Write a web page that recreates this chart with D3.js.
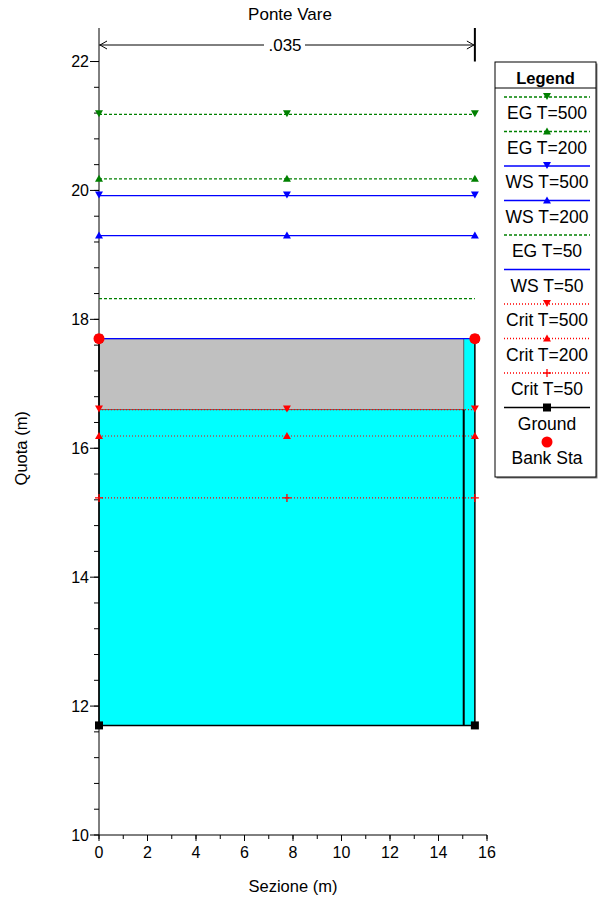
<!DOCTYPE html>
<html><head><meta charset="utf-8">
<script src="https://cdn.jsdelivr.net/npm/d3@7"></script>
<style>body{margin:0;background:#fff;} svg{display:block;font-family:"Liberation Sans",Arial,sans-serif;}</style>
</head><body>
<script>
// ---- data ----
const title = "Ponte Vare";
const annotationText = ".035";
const xTicks = [0, 2, 4, 6, 8, 10, 12, 14, 16];
const yTicks = [10, 12, 14, 16, 18, 20, 22];
const stations = [0, 7.75, 15.5];
const levelNames = ["EG T=500", "EG T=200", "WS T=500", "WS T=200", "EG T=50", "WS T=50", "Crit T=500", "Crit T=200", "Crit T=50"];
const levelValues = [21.18, 20.18, 19.92, 19.30, 18.32, 17.70, 16.60, 16.19, 15.23];
const groundX = [0, 0, 15.5, 15.5];
const groundY = [17.7, 11.7, 11.7, 17.7];
const bankX = [0, 15.5];
const bankY = [17.7, 17.7];
const deckX = [0, 15.04];
const deckTop = [17.7, 17.7];
const deckBottom = [16.6, 16.6];
const pierX = 15.04;

// ---- styles ----
const styles = {
  "EG T=500": {color: "#008000", dash: "3,2", marker: "down"},
  "EG T=200": {color: "#008000", dash: "3,2", marker: "up"},
  "WS T=500": {color: "#0000ff", dash: null, marker: "down"},
  "WS T=200": {color: "#0000ff", dash: null, marker: "up"},
  "EG T=50": {color: "#008000", dash: "3,2", marker: null},
  "WS T=50": {color: "#0000ff", dash: null, marker: null},
  "Crit T=500": {color: "#ff0000", dash: "1,2", marker: "down"},
  "Crit T=200": {color: "#ff0000", dash: "1,2", marker: "up"},
  "Crit T=50": {color: "#ff0000", dash: "1,2", marker: "plus"}
};

const W = 598, H = 901;
const svg = d3.select("body").append("svg").attr("width", W).attr("height", H);

const x = d3.scaleLinear().domain([0, 16]).range([99, 487]);
const y = d3.scaleLinear().domain([10, 22.52]).range([835, 28]);

// water fill: ground polygon clipped at WS T=50
const waterLevel = levelValues[levelNames.indexOf("WS T=50")];
const waterPts = groundX.map((g, i) => [g, Math.min(groundY[i], waterLevel)]);
svg.append("path")
  .attr("d", d3.line().x(d => x(d[0])).y(d => y(d[1]))(waterPts) + "Z")
  .attr("fill", "#00ffff").attr("stroke", "none");

// deck
svg.append("rect")
  .attr("x", x(deckX[0])).attr("y", y(deckTop[0]))
  .attr("width", x(deckX[1]) - x(deckX[0])).attr("height", y(deckBottom[0]) - y(deckTop[0]))
  .attr("fill", "#c0c0c0").attr("stroke", "#606060").attr("stroke-width", 1);

// pier line
svg.append("line")
  .attr("x1", x(pierX)).attr("x2", x(pierX))
  .attr("y1", y(deckBottom[0])).attr("y2", y(groundY[1]))
  .attr("stroke", "#000").attr("stroke-width", 2);

// ground line
svg.append("path")
  .attr("d", d3.line().x((d, i) => x(groundX[i])).y((d, i) => y(groundY[i]))(groundX))
  .attr("fill", "none").attr("stroke", "#000").attr("stroke-width", 1.5);

// axes
const yAxis = svg.append("g").attr("transform", `translate(${x(0)},0)`);
yAxis.append("line").attr("x1", 0).attr("x2", 0).attr("y1", y(22.52)).attr("y2", y(10)).attr("stroke", "#000");
const yMinor = d3.range(10, 22.01, 0.4).map(v => +v.toFixed(2));
yAxis.selectAll(".ymin").data(yMinor).join("line")
  .attr("x1", -5).attr("x2", 0).attr("y1", d => y(d)).attr("y2", d => y(d)).attr("stroke", "#000");
yAxis.selectAll(".ymaj").data(yTicks).join("line")
  .attr("x1", -9).attr("x2", 0).attr("y1", d => y(d)).attr("y2", d => y(d)).attr("stroke", "#000");
yAxis.selectAll(".ylab").data(yTicks).join("text")
  .attr("x", -10).attr("y", d => y(d)).attr("dy", "0.35em").attr("text-anchor", "end")
  .attr("font-size", 16).text(d => d);

const xAxis = svg.append("g").attr("transform", `translate(0,${y(10)})`);
xAxis.append("line").attr("x1", x(0)).attr("x2", x(16)).attr("y1", 0).attr("y2", 0).attr("stroke", "#000");
xAxis.selectAll(".xmin").data(d3.range(0, 17, 1)).join("line")
  .attr("x1", d => x(d)).attr("x2", d => x(d)).attr("y1", 0).attr("y2", 4).attr("stroke", "#000");
xAxis.selectAll(".xmaj").data(xTicks).join("line")
  .attr("x1", d => x(d)).attr("x2", d => x(d)).attr("y1", 0).attr("y2", 6).attr("stroke", "#000");
xAxis.selectAll(".xlab").data(xTicks).join("text")
  .attr("x", d => x(d)).attr("y", 23).attr("text-anchor", "middle")
  .attr("font-size", 16).text(d => d);

// axis titles
svg.append("text").attr("x", x(8)).attr("y", 892).attr("text-anchor", "middle").attr("font-size", 16.5).text("Sezione (m)");
svg.append("text").attr("transform", `translate(27,${y(16)}) rotate(-90)`).attr("text-anchor", "middle").attr("font-size", 16.5).text("Quota (m)");
svg.append("text").attr("x", 290).attr("y", 20).attr("text-anchor", "middle").attr("font-size", 17).text(title);

// markers
function drawMarker(g, type, cx, cy, color) {
  if (type === "down") {
    g.append("path").attr("d", `M${cx - 4},${cy - 4}L${cx + 4},${cy - 4}L${cx},${cy + 3}Z`).attr("fill", color);
  } else if (type === "up") {
    g.append("path").attr("d", `M${cx - 4},${cy + 3}L${cx + 4},${cy + 3}L${cx},${cy - 4}Z`).attr("fill", color);
  } else if (type === "plus") {
    g.append("path").attr("d", `M${cx - 4},${cy}L${cx + 4},${cy}M${cx},${cy - 4}L${cx},${cy + 4}`).attr("stroke", color).attr("stroke-width", 1.3);
  } else if (type === "square") {
    g.append("rect").attr("x", cx - 4).attr("y", cy - 4).attr("width", 8).attr("height", 8).attr("fill", color);
  } else if (type === "circle") {
    g.append("circle").attr("cx", cx).attr("cy", cy).attr("r", 5.5).attr("fill", color);
  }
}

// level lines (draw bottom-most first)
const lines = svg.append("g");
levelNames.slice().reverse().forEach(name => {
  const v = levelValues[levelNames.indexOf(name)];
  const s = styles[name];
  lines.append("line")
    .attr("x1", x(stations[0])).attr("x2", x(stations[stations.length - 1]))
    .attr("y1", y(v)).attr("y2", y(v))
    .attr("stroke", s.color).attr("stroke-width", s.dash === "1,2" ? 1.2 : 1.3)
    .attr("stroke-dasharray", s.dash);
  if (s.marker) stations.forEach(st => drawMarker(lines, s.marker, x(st), y(v), s.color));
});

// ground markers and bank stations
groundX.forEach((g, i) => drawMarker(svg, "square", x(g), y(groundY[i]), "#000"));
bankX.forEach((b, i) => drawMarker(svg, "circle", x(b), y(bankY[i]), "#ff0000"));

// dimension annotation
const annY = 45;
const ann = svg.append("g");
ann.append("line").attr("x1", x(15.5)).attr("x2", x(15.5)).attr("y1", 28).attr("y2", y(22)).attr("stroke", "#000").attr("stroke-width", 2);
ann.append("line").attr("x1", x(0)).attr("x2", 264).attr("y1", annY).attr("y2", annY).attr("stroke", "#000");
ann.append("line").attr("x1", 305).attr("x2", x(15.5)).attr("y1", annY).attr("y2", annY).attr("stroke", "#000");
ann.append("path").attr("d", `M${x(0) + 8},${annY - 4}L${x(0) + 1},${annY}L${x(0) + 8},${annY + 4}`).attr("fill", "none").attr("stroke", "#000");
ann.append("path").attr("d", `M${x(15.5) - 8},${annY - 4}L${x(15.5) - 1},${annY}L${x(15.5) - 8},${annY + 4}`).attr("fill", "none").attr("stroke", "#000");
ann.append("text").attr("x", 285).attr("y", annY).attr("dy", "0.35em").attr("text-anchor", "middle").attr("font-size", 17).text(annotationText);

// legend
const legendNames = levelNames.concat(["Ground", "Bank Sta"]);
const lg = svg.append("g");
const lx0 = 495, lx1 = 596, ly0 = 62, ly1 = 477;
lg.append("rect").attr("x", lx0 + 1.5).attr("y", ly0 + 1.5).attr("width", lx1 - lx0).attr("height", ly1 - ly0).attr("fill", "#808080");
lg.append("rect").attr("x", lx0).attr("y", ly0).attr("width", lx1 - lx0).attr("height", ly1 - ly0).attr("fill", "#fff").attr("stroke", "#000");
lg.append("line").attr("x1", lx0).attr("x2", lx1).attr("y1", 88).attr("y2", 88).attr("stroke", "#000");
lg.append("text").attr("x", (lx0 + lx1) / 2).attr("y", 78).attr("dy", "0.35em").attr("text-anchor", "middle").attr("font-size", 16.5).attr("font-weight", "bold").text("Legend");
const cxL = 547;
legendNames.forEach((name, i) => {
  const ly = 97 + i * 34.5;
  if (name === "Bank Sta") {
    drawMarker(lg, "circle", cxL, ly, "#ff0000");
  } else if (name === "Ground") {
    lg.append("line").attr("x1", 504).attr("x2", 590).attr("y1", ly).attr("y2", ly).attr("stroke", "#000").attr("stroke-width", 1.3);
    drawMarker(lg, "square", cxL, ly, "#000");
  } else {
    const s = styles[name];
    lg.append("line").attr("x1", 504).attr("x2", 590).attr("y1", ly).attr("y2", ly)
      .attr("stroke", s.color).attr("stroke-width", 1.3).attr("stroke-dasharray", s.dash);
    if (s.marker) drawMarker(lg, s.marker, cxL, ly, s.color);
  }
  lg.append("text").attr("x", cxL).attr("y", ly + 16).attr("dy", "0.35em").attr("text-anchor", "middle").attr("font-size", 17.5).text(name);
});
</script>
</body></html>
